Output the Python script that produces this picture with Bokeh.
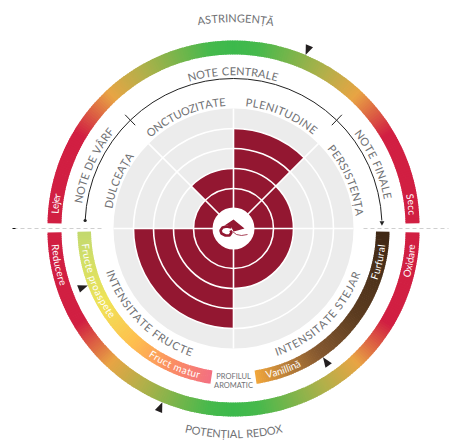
import math
from bokeh.plotting import figure
from bokeh.embed import file_html
from bokeh.resources import INLINE
from bokeh.core.properties import value

# --- chart values -----------------------------------------------------------
sector_names = ["DULCEAȚA", "ONCTUOZITATE", "PLENITUDINE", "PERSISTENȚA", "INTENSITATE STEJAR", "INTENSITATE FRUCTE"]
sector_start = [270, 315, 0, 45, 90, 180]      # clockwise from top
sector_end = [315, 360, 45, 90, 180, 270]
sector_values = [1, 2, 4, 2, 2, 4]             # number of rings filled
ring_levels = [1, 2, 3, 4, 5]

astringency_marker = [22.8]
redox_marker = [202.5]
oak_marker = [145.0]
fruit_marker = [249.0]

# colour stops: (angle away from the green middle, colour)
balance_stops = [(0, "#3CB94C"), (8, "#47B94C"), (30, "#B0B04A"), (43, "#E8A444"), (59, "#D11F42"), (90, "#D11F42")]
fruit_stops = [(269, "#C3D96E"), (255, "#D7E064"), (240, "#F0E256"), (222, "#FEC04E"), (205, "#FB8F62"), (188, "#F36E82")]
oak_stops = [(171.5, "#F2A73B"), (160, "#BC813A"), (145, "#83572F"), (125, "#5C3C20"), (91, "#3F2815")]

# --- look -------------------------------------------------------------------
W, H = 451, 441
CX, CY = 233, 228
TEXT = "#707174"
FONT = "Lato"
CRIMSON = "#931731"
GREY = "#ECECEC"


def Y(img_y):
    return H - img_y


def pol(cy, r, th):
    a = math.radians(th)
    return CX + r * math.sin(a), Y(cy) + r * math.cos(a)


def m(th):  # clockwise-from-top to maths angle in radians
    return math.radians(90 - th)


p = figure(width=W, height=H, x_range=(0, W), y_range=(0, H), output_backend="svg",
           toolbar_location=None, min_border=0, outline_line_color=None,
           background_fill_color="white", border_fill_color="white")
p.axis.visible = False
p.grid.visible = False


def lerp_color(stops, t):
    for (a0, c0), (a1, c1) in zip(stops, stops[1:]):
        lo, hi = min(a0, a1), max(a0, a1)
        if lo <= t <= hi:
            f = (t - a0) / (a1 - a0)
            rgb = [int(c0[i:i + 2], 16) * (1 - f) + int(c1[i:i + 2], 16) * f for i in (1, 3, 5)]
            return "#%02x%02x%02x" % tuple(int(round(v)) for v in rgb)
    return stops[-1][1]


def band(cy, r0, r1, th0, th1, colorfn):
    step = 0.75
    n = int(round((th1 - th0) / step))
    xs, ys, st, en, cs = [], [], [], [], []
    for i in range(n):
        a = th0 + (th1 - th0) * i / n
        b = th0 + (th1 - th0) * (i + 1) / n
        xs.append(CX); ys.append(Y(cy))
        # slight overlap hides the seams
        st.append(m(min(b + 0.25, th1))); en.append(m(a))
        cs.append(colorfn((a + b) / 2))
    p.annular_wedge(xs, ys, inner_radius=r0, outer_radius=r1, start_angle=st, end_angle=en,
                    fill_color=cs, line_color=None)


ADV = {"I": .30, "J": .52, "L": .55, "E": .6, "F": .56, "T": .6, "A": .68, "Ă": .68, "Â": .68, "Ț": .6, "B": .65, "C": .72,
       "D": .74, "G": .74, "H": .74, "K": .66, "M": .88, "N": .74, "O": .8, "P": .6, "R": .64, "S": .58,
       "U": .72, "V": .68, "X": .66, " ": .3, "i": .26, "l": .26, "t": .36, "r": .38, "f": .34, "j": .26,
       "m": .85, "ă": .52, "e": .55, "c": .5, "s": .46}


def curved(s, cy, r, th0, th1, size, color=TEXT, style="normal", inward=False):
    adv = [ADV.get(c, .56) for c in s]
    tot = sum(adv)
    pos, run = [], 0
    for a in adv:
        pos.append((run + a / 2) / tot)
        run += a
    rr = r - 0.35 * size if inward else r + 0.35 * size
    xs, ys, ang = [], [], []
    for t in pos:
        th = th0 + (th1 - th0) * t
        x, y = pol(cy, rr, th)
        xs.append(x); ys.append(y)
        ang.append(math.radians((180 - th) if inward else -th))
    p.text(xs, ys, text=list(s), angle=ang, text_font=value(FONT), text_font_size=f"{size}px",
           text_color=color, text_align="center", text_baseline="middle", text_font_style=style)


# disk and values
p.circle([CX], [Y(CY)], radius=120, fill_color=GREY, line_color=None)
for a, b, v in zip(sector_start, sector_end, sector_values):
    p.annular_wedge([CX], [Y(CY)], inner_radius=0, outer_radius=20 + 20 * v, start_angle=m(b), end_angle=m(a),
                    fill_color=CRIMSON, line_color=None)
for lv in ring_levels[:-1]:
    p.circle([CX], [Y(CY)], radius=20 + 20 * lv, fill_color=None, line_color="white", line_width=1.6)
for th in sorted(set(sector_start)):
    x, y = pol(CY, 120, th)
    p.line([CX, x], [Y(CY), y], line_color="white", line_width=1.6)
p.circle([CX], [Y(CY)], radius=21, fill_color="white", line_color=None)

# centre logo (offsets from the centre, in pixels)
leaf_x = [-9, 0, 11, 4, 0, -2, -6]
leaf_y = [-3, -9, 0, 2, 3, -1, -3]
swirl_x = [-2, -7, -11, -13, -12, -8, -4, -2, -3]
swirl_y = [-1, -2, -1, 2, 5, 7, 7, 4, 2]
tail_x = [-1, 3, 8, 14]
tail_y = [3, 6, 7, 6]
p.patch([CX + v for v in leaf_x], [Y(CY + v) for v in leaf_y], fill_color=CRIMSON, line_color=None)
p.line([CX + v for v in swirl_x], [Y(CY + v) for v in swirl_y], line_color=CRIMSON, line_width=2.6)
p.line([CX + v for v in tail_x], [Y(CY + v) for v in tail_y], line_color=CRIMSON, line_width=0.8)

# dashed guide
p.line([13, 103], [Y(CY)] * 2, line_color="#CFCFCF", line_dash="4 3", line_width=1)
p.line([12, 15], [Y(CY)] * 2, line_color="#111111", line_width=1)
p.line([363, 448], [Y(CY)] * 2, line_color="#CFCFCF", line_dash="4 3", line_width=1)

# outer balance rings
band(226, 172, 186, -89, 89, lambda t: lerp_color(balance_stops, abs(t)))
band(230, 172, 186, 90.6, 269.4, lambda t: lerp_color(balance_stops, abs(t - 180)))
# inner bottom rings
band(229, 142.5, 156, 188.5, 269.2, lambda t: lerp_color(fruit_stops, t))
band(229, 142.5, 156, 90.8, 171.5, lambda t: lerp_color(oak_stops, t))

# note arc
ARC_CY = 226.5
p.arc([CX], [Y(ARC_CY)], radius=148.5, start_angle=m(87.5), end_angle=m(-87.5), line_color="#222222", line_width=1)
for th in (-44, 44):
    x0, y0 = pol(ARC_CY, 141.5, th)
    x1, y1 = pol(ARC_CY, 156, th)
    p.line([x0, x1], [y0, y1], line_color="#222222", line_width=1)
dx, dy = pol(ARC_CY, 148.5, -87.5)
p.circle([dx], [dy], radius=1.6, fill_color="#222222", line_color=None)
ax, ay = pol(ARC_CY, 148.5, 88.5)
p.patch([ax - 2.4, ax + 2.4, ax], [ay + 1.8, ay + 1.8, ay - 2.6], fill_color="#222222", line_color=None)


def pointer(cy, r, th):
    half = math.degrees(3.9 / (r + 10))
    a = pol(cy, r, th)
    b = pol(cy, r + 10, th - half)
    c = pol(cy, r + 10, th + half)
    p.patch([a[0], b[0], c[0]], [a[1], b[1], c[1]], fill_color="#231F20", line_color=None)


pointer(226, 186, astringency_marker[0])
pointer(230, 186, redox_marker[0])
pointer(229, 156, oak_marker[0])
pointer(229, 156, fruit_marker[0])

# curved labels
curved("ASTRINGENȚĂ", 226, 205, -10, 11.2, 11)
curved("POTENȚIAL REDOX", 230, 207, 193.6, 166.2, 11, inward=True)
curved("NOTE CENTRALE", 228, 154, -16.8, 16.5, 11)
curved("NOTE DE VÂRF", 228, 154, -80.7, -50.9, 11)
curved("NOTE FINALE", 228, 154, 51.7, 79.3, 11)
curved(sector_names[0], 228, 123.5, -80.8, -54, 11)
curved(sector_names[1], 228, 123.5, -42.4, -3.5, 11)
curved(sector_names[2], 228, 123.5, 5.4, 40.5, 11)
curved(sector_names[3], 228, 123.5, 49.5, 84.3, 11)
curved(sector_names[4], 228, 134, 161.4, 109.4, 11, inward=True)
curved(sector_names[5], 228, 134, 251.4, 198.2, 11, inward=True)

curved("Lejer", 226, 176, -85.8, -79.5, 10, "white")
curved("Secc", 226, 176, 79.4, 86.4, 10, "white")
curved("Reducere", 230, 182, 265.6, 252.2, 10, "white", "normal", True)
curved("Oxidare", 230, 182, 105, 94.5, 10, "white", "normal", True)
curved("Fructe proaspete", 229, 152, 264.6, 234, 10, "white", "normal", True)
curved("Fruct matur", 229, 152, 214, 193, 10, "white", "normal", True)
curved("Vanillină", 229, 152, 167.3, 153.6, 10, "white", "normal", True)
curved("Furfural", 229, 152, 109.4, 95.7, 10, "white", "normal", True)

p.text([233], [Y(376)], text=["PROFILUL"], text_font=value(FONT), text_font_size="7.5px", text_color=TEXT,
       text_align="center", text_baseline="middle")
p.text([233], [Y(385)], text=["AROMATIC"], text_font=value(FONT), text_font_size="7.5px", text_color=TEXT,
       text_align="center", text_baseline="middle")

open("out.html", "w").write(file_html(p, INLINE))
